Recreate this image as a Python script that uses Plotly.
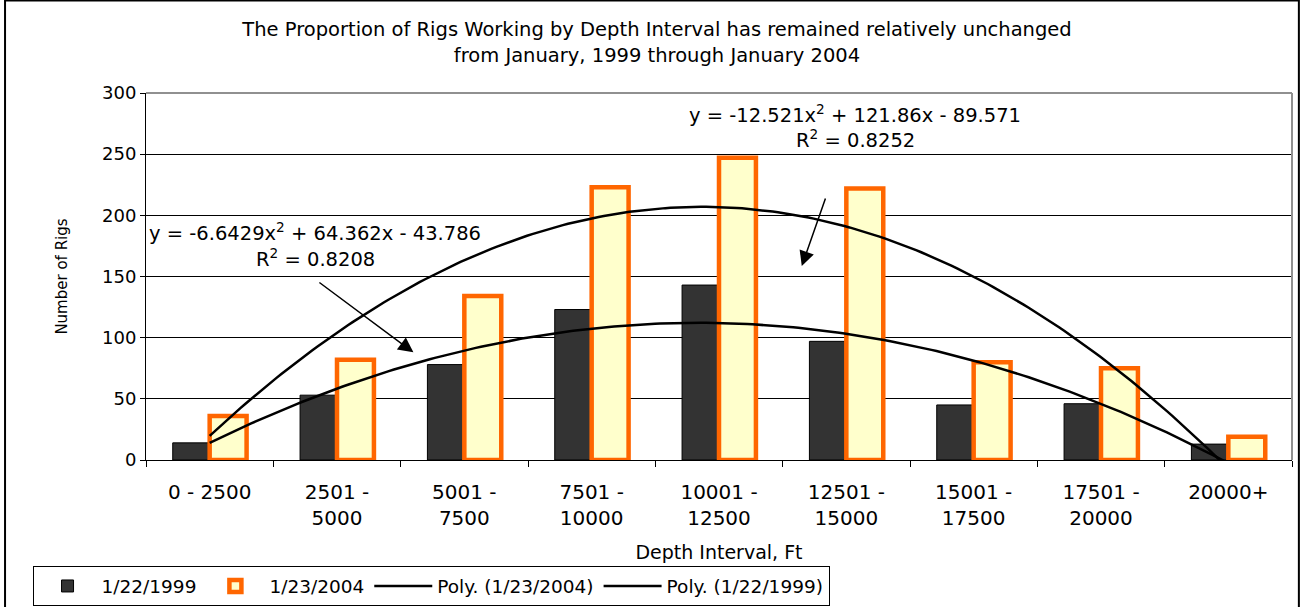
import numpy as np
import plotly.graph_objects as go

categories = ["0 - 2500", "2501 -<br>5000", "5001 -<br>7500", "7501 -<br>10000",
              "10001 -<br>12500", "12501 -<br>15000", "15001 -<br>17500",
              "17501 -<br>20000", "20000+"]
rigs_1999 = [14, 53, 78, 123, 143, 97, 45, 46, 13]
rigs_2004 = [36, 82, 134, 223, 247, 222, 80, 75, 19]

# trendline coefficients as printed on the chart (a*x^2 + b*x + c)
poly_2004 = [-12.521, 121.86, -89.571]
poly_1999 = [-6.6429, 64.362, -43.786]

pos = np.arange(1, len(categories) + 1)
xs = np.linspace(1, len(categories), 200)

fig = go.Figure()
fig.add_bar(x=pos, y=rigs_1999, name="1/22/1999",
            marker=dict(color="#333333", line=dict(color="#000000", width=1)))
fig.add_bar(x=pos, y=rigs_2004, name="1/23/2004",
            marker=dict(color="#FFFFCC", line=dict(color="#FF6600", width=4.5)))
fig.add_scatter(x=xs, y=np.polyval(poly_2004, xs), mode="lines",
                name="Poly. (1/23/2004)", line=dict(color="black", width=2.5))
fig.add_scatter(x=xs, y=np.polyval(poly_1999, xs), mode="lines",
                name="Poly. (1/22/1999)", line=dict(color="black", width=2.5))

fam = "DejaVu Sans, Arial, sans-serif"
def f(size):
    return dict(family=fam, size=size, color="black")

fig.update_layout(
    width=1301, height=607,
    margin=dict(l=146, r=9, t=93, b=147, autoexpand=False),
    paper_bgcolor="white", plot_bgcolor="white",
    font=f(18),
    barmode="group", bargap=0.42, bargroupgap=0,
    title=dict(text="The Proportion of Rigs Working by Depth Interval has remained relatively unchanged<br>"
                    "from January, 1999 through January 2004",
               x=0.505, xanchor="center", y=0.94, yanchor="top", font=f(19.5)),
    legend=dict(orientation="h", x=-0.099, y=-0.29, xanchor="left", yanchor="top",
                bordercolor="black", borderwidth=1, bgcolor="white",
                font=f(18.5), traceorder="normal", itemwidth=58),
    showlegend=True,
)

fig.update_xaxes(range=[0.5, len(categories) + 0.5], tickvals=pos, ticktext=categories,
                 ticks="", showgrid=False, showline=True, linecolor="black", linewidth=1,
                 zeroline=False, tickfont=f(20), ticklabelstandoff=14,
                 minor=dict(tickvals=list(np.arange(0.5, len(categories) + 1, 1.0)),
                            ticks="outside", ticklen=6, tickcolor="black", showgrid=False),
                 title=dict(text="Depth Interval, Ft", font=f(19), standoff=16))
fig.update_yaxes(range=[0, 300], dtick=50, ticks="outside", ticklen=5, tickcolor="black",
                 showgrid=True, gridcolor="black", gridwidth=1, showline=True,
                 linecolor="black", linewidth=1, zeroline=False, tickfont=f(18),
                 title=dict(text="Number of Rigs", font=f(15), standoff=30))

# plot area border and outer chart frame
fig.add_shape(type="line", xref="paper", yref="paper", x0=0, x1=1, y0=1, y1=1,
              line=dict(color="#909090", width=2))
fig.add_shape(type="line", xref="paper", yref="paper", x0=1, x1=1, y0=0, y1=1,
              line=dict(color="#909090", width=2))
fig.add_shape(type="rect", xref="paper", yref="paper", x0=-0.123, x1=1.006, y0=-0.45, y1=1.252,
              line=dict(color="black", width=2), layer="below")

# trendline labels and arrows
fig.add_annotation(x=1.83, y=186, text="y = -6.6429x<sup>2</sup> + 64.362x - 43.786",
                   showarrow=False, font=f(19.5))
fig.add_annotation(x=1.83, y=165, text="R<sup>2</sup> = 0.8208", showarrow=False, font=f(19.5))
fig.add_annotation(x=2.60, y=88, ax=1.85, ay=146, axref="x", ayref="y", text="",
                   showarrow=True, arrowhead=2, arrowsize=2, arrowwidth=1.5, arrowcolor="black")
fig.add_annotation(x=6.07, y=283, text="y = -12.521x<sup>2</sup> + 121.86x - 89.571",
                   showarrow=False, font=f(19.5))
fig.add_annotation(x=6.07, y=262, text="R<sup>2</sup> = 0.8252", showarrow=False, font=f(19.5))
fig.add_annotation(x=5.65, y=158.5, ax=5.84, ay=215, axref="x", ayref="y", text="",
                   showarrow=True, arrowhead=2, arrowsize=2, arrowwidth=1.5, arrowcolor="black")

fig.write_html("out.html", config={"displayModeBar": False},
               post_script="document.body.style.margin='0';")
